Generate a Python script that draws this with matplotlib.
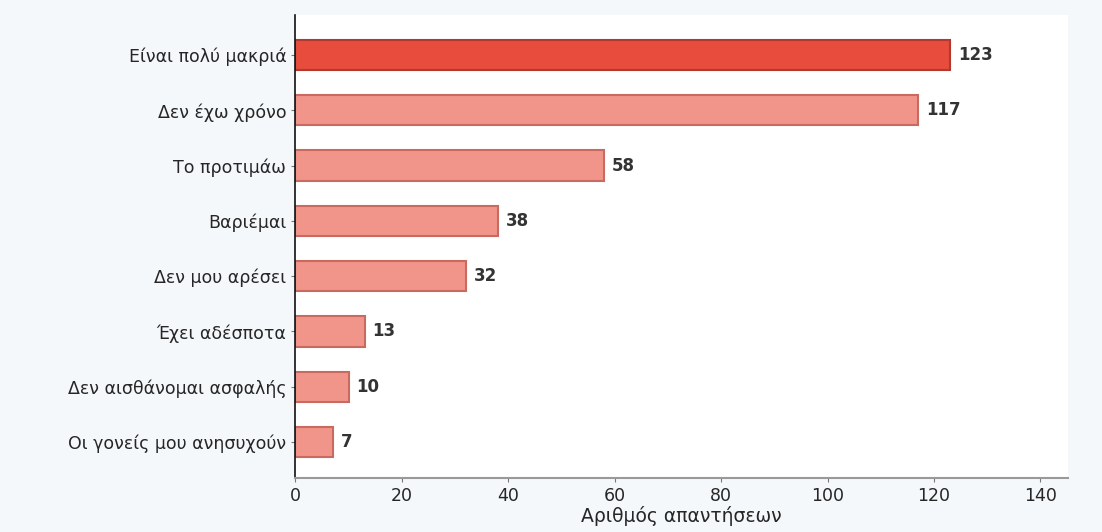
import matplotlib.pyplot as plt

plt.rcParams['font.family'] = 'DejaVu Sans'

reasons = [
    "Είναι πολύ μακριά",
    "Δεν έχω χρόνο",
    "Το προτιμάω",
    "Βαριέμαι",
    "Δεν μου αρέσει",
    "Έχει αδέσποτα",
    "Δεν αισθάνομαι ασφαλής",
    "Οι γονείς μου ανησυχούν",
]
counts = [123, 117, 58, 38, 32, 13, 10, 7]

c_top = "#e74c3c"
c_top_edge = "#b03a2e"
c_rest = "#f1948a"
c_rest_edge = "#c96a60"
txt = "#262626"

fig = plt.figure(figsize=(11.02, 5.32), dpi=100, facecolor="#f5f8fb")
ax = fig.add_axes([0.268, 0.1015, 0.701, 0.870])
ax.set_facecolor("white")

pos = list(range(len(reasons)))[::-1]
colors = [c_top] + [c_rest] * (len(reasons) - 1)
edges = [c_top_edge] + [c_rest_edge] * (len(reasons) - 1)
ax.barh(pos, counts, height=0.55, color=colors, edgecolor=edges, linewidth=1.5)

# value labels just past the end of each bar
for p, v in zip(pos, counts):
    ax.text(v + 1.5, p, str(v), va="center", ha="left", fontsize=12,
            fontweight="bold", color="#333333")

ax.set_yticks(pos)
ax.set_yticklabels(reasons, fontsize=12.5, color=txt)
ax.set_ylim(-0.65, 7.72)
ax.set_xlim(0, max(counts) * 1.18)
ax.set_xticks(range(0, 141, 20))
ax.tick_params(axis="x", labelsize=12.5, colors="#777777", labelcolor=txt, length=3)
ax.tick_params(axis="y", length=3, colors="#777777", labelcolor=txt)
ax.set_xlabel("Αριθμός απαντήσεων", fontsize=13.5, color=txt, labelpad=1)

ax.spines["top"].set_visible(False)
ax.spines["right"].set_visible(False)
ax.spines["left"].set_color("#111111")
ax.spines["left"].set_linewidth(1.2)
ax.spines["bottom"].set_color("#999999")
ax.spines["bottom"].set_linewidth(1.5)

fig.savefig("out.png", dpi=100, facecolor=fig.get_facecolor())
